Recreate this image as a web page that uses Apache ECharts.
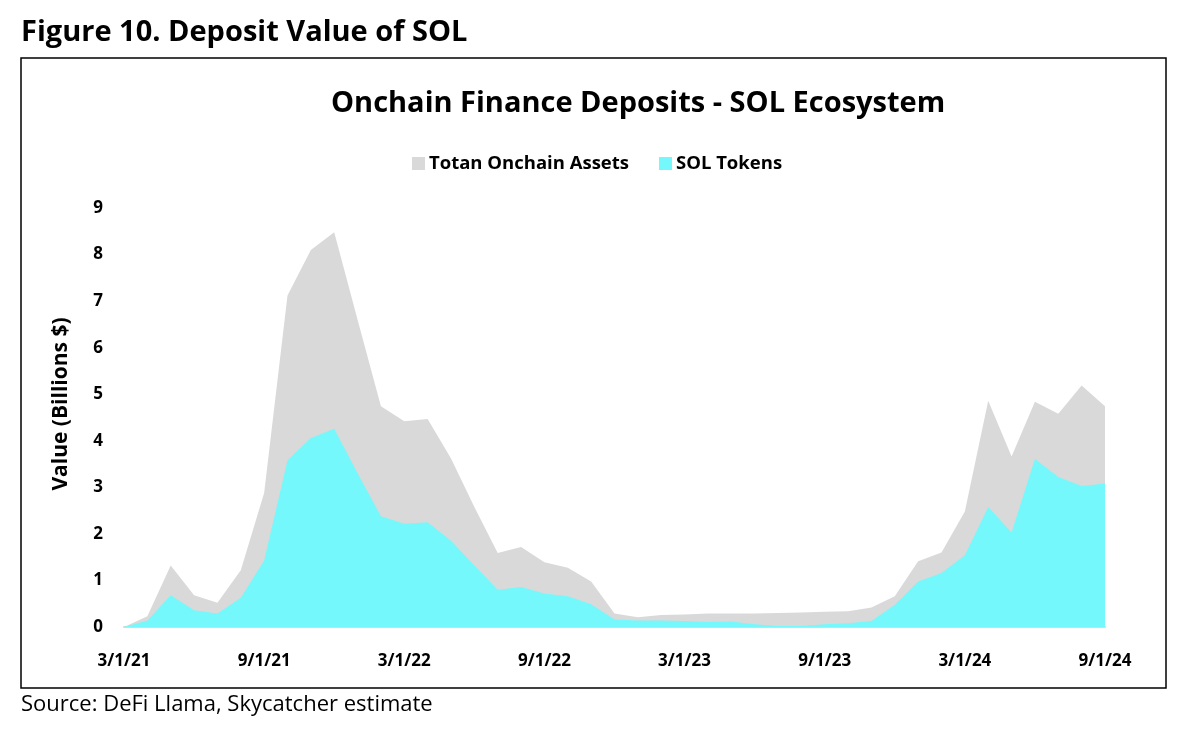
<!DOCTYPE html>
<html><head><meta charset="utf-8">
<script src="https://cdn.jsdelivr.net/npm/echarts@6/dist/echarts.min.js"></script>
<style>html,body{margin:0;padding:0;background:#fff}#c{width:1204px;height:738px}</style>
</head><body><div id="c"></div>
<script>
const categories = [
 "3/1/21","4/1/21","5/1/21","6/1/21","7/1/21","8/1/21","9/1/21","10/1/21","11/1/21","12/1/21",
 "1/1/22","2/1/22","3/1/22","4/1/22","5/1/22","6/1/22","7/1/22","8/1/22","9/1/22","10/1/22","11/1/22","12/1/22",
 "1/1/23","2/1/23","3/1/23","4/1/23","5/1/23","6/1/23","7/1/23","8/1/23","9/1/23","10/1/23","11/1/23","12/1/23",
 "1/1/24","2/1/24","3/1/24","4/1/24","5/1/24","6/1/24","7/1/24","8/1/24","9/1/24"];
const totalAssets = [
 0,0.23,1.32,0.68,0.52,1.22,2.88,7.12,8.10,8.48,
 6.60,4.74,4.42,4.47,3.62,2.58,1.59,1.72,1.39,1.27,0.98,0.29,
 0.21,0.26,0.27,0.29,0.29,0.29,0.30,0.31,0.33,0.34,0.42,0.66,
 1.41,1.60,2.48,4.86,3.66,4.84,4.58,5.19,4.74];
const solTokens = [
 0,0.14,0.68,0.36,0.29,0.63,1.43,3.58,4.06,4.26,
 3.30,2.38,2.22,2.25,1.85,1.32,0.80,0.86,0.72,0.66,0.49,0.16,
 0.14,0.14,0.13,0.11,0.12,0.06,0.02,0.02,0.06,0.08,0.13,0.48,
 0.98,1.16,1.54,2.58,2.03,3.61,3.22,3.03,3.08];
const yTicks = [0,1,2,3,4,5,6,7,8,9];

const chart = echarts.init(document.getElementById('c'));
const bold = {fontFamily:'Open Sans', fontWeight:'bold', color:'#000'};
chart.setOption({
  animation:false,
  backgroundColor:'#fff',
  graphic:[
    {type:'text', left:21, top:18, style:{text:'Figure 10. Deposit Value of SOL', font:'bold 29px "Open Sans"', fill:'#000'}},
    {type:'rect', shape:{x:21, y:58, width:1145, height:630}, style:{fill:'none', stroke:'#000', lineWidth:1.5}},
    {type:'text', left:21, top:694, style:{text:'Source: DeFi Llama, Skycatcher estimate', font:'22px "Open Sans"', fill:'#000'}},
    {type:'text', x:61, y:404, rotation:Math.PI/2,
     style:{text:'Value (Billions $)', font:'bold 21px "Open Sans"', fill:'#000', textAlign:'center', textVerticalAlign:'middle'}}
  ],
  title:{
    text:'Onchain Finance Deposits - SOL Ecosystem', left:326, top:84,
    textStyle:{fontFamily:'Open Sans', fontWeight:'bold', fontSize:29, color:'#000'}
  },
  legend:{
    top:149, left:407, icon:'rect', itemWidth:13, itemHeight:13, itemGap:30, itemStyle:{borderWidth:0},
    textStyle:Object.assign({fontSize:18.5, padding:[0,0,0,-1]}, bold),
    data:['Totan Onchain Assets','SOL Tokens']
  },
  grid:{left:124, right:99, top:208, bottom:111, containLabel:false},
  xAxis:{
    type:'category', data:categories, boundaryGap:false,
    axisLine:{lineStyle:{color:'#D9D9D9', width:2}},
    axisTick:{show:false},
    axisLabel:Object.assign({interval:5, fontSize:17, margin:26}, bold)
  },
  yAxis:{
    type:'value', min:0, max:9, interval:1,
    axisLine:{show:false}, axisTick:{show:false}, splitLine:{show:false},
    axisLabel:Object.assign({fontSize:17, margin:21, formatter:v=>yTicks.includes(v)?String(v):''}, bold)
  },
  series:[
    {name:'Totan Onchain Assets', type:'line', data:totalAssets, showSymbol:false, symbol:'none',
     itemStyle:{color:'#D9D9D9'}, lineStyle:{width:0, color:'#D9D9D9'}, areaStyle:{color:'#D9D9D9', opacity:1}, z:2},
    {name:'SOL Tokens', type:'line', data:solTokens, showSymbol:false, symbol:'none',
     itemStyle:{color:'#75F8FB'}, lineStyle:{width:0, color:'#75F8FB'}, areaStyle:{color:'#75F8FB', opacity:1}, z:3}
  ]
});
</script></body></html>
